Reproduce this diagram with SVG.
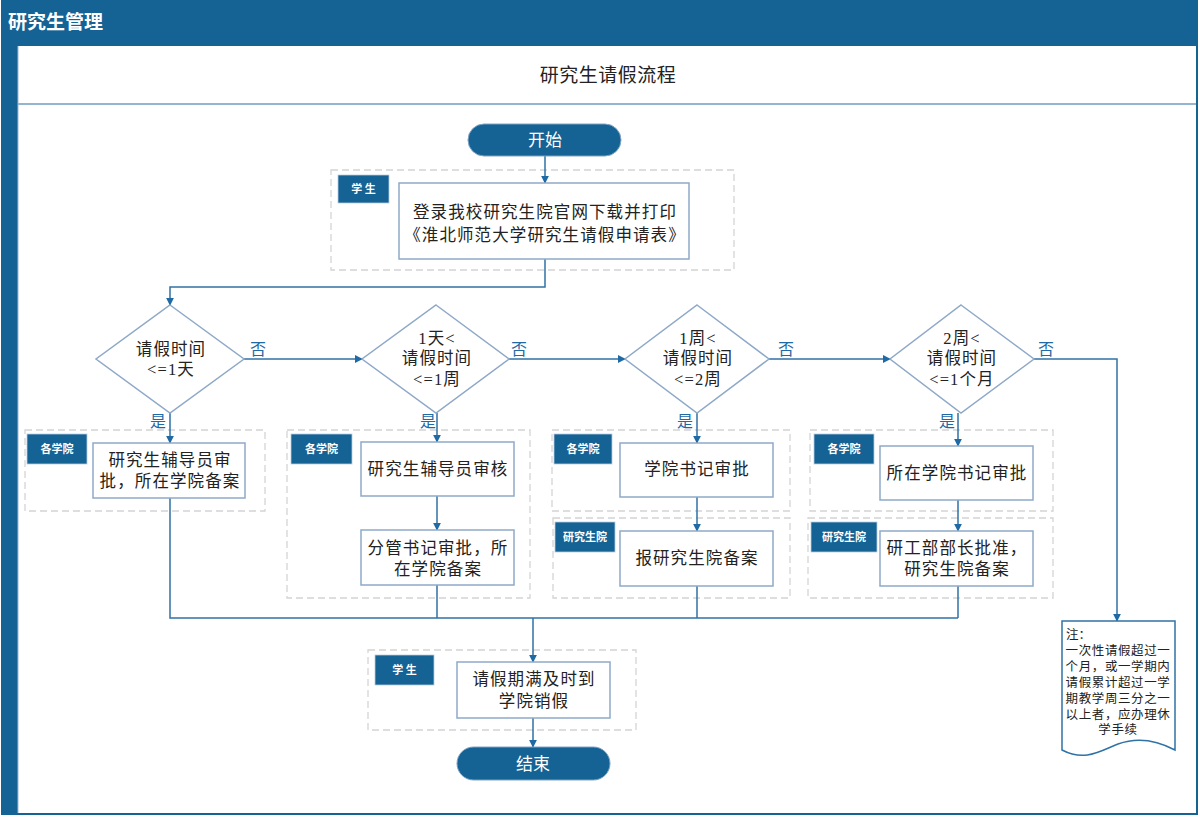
<svg xmlns="http://www.w3.org/2000/svg" width="1200" height="817" viewBox="0 0 1200 817">
<style>
.t{font-family:"Liberation Serif","Noto Sans CJK SC",serif;font-size:16.5px;letter-spacing:1.1px;fill:#222;text-anchor:middle}
.w{font-family:"Liberation Serif","Noto Sans CJK SC",serif;fill:#fff;text-anchor:middle}
.lab{font-family:"Liberation Serif","Noto Sans CJK SC",serif;font-size:11px;font-weight:bold;fill:#fff;text-anchor:middle}
.yn{font-family:"Liberation Serif","Noto Sans CJK SC",serif;font-size:16px;fill:#1f6aa5;text-anchor:middle}
.nt{font-family:"Liberation Serif","Noto Sans CJK SC",serif;font-size:12.5px;letter-spacing:0.6px;fill:#222;text-anchor:middle}
.nts{font-family:"Liberation Serif","Noto Sans CJK SC",serif;font-size:12.5px;fill:#222;text-anchor:start}
.box{fill:#fff;stroke:#8ea9c8;stroke-width:1.5}
.grp{fill:none;stroke:#d4d4d4;stroke-width:1.3;stroke-dasharray:7,4}
.lb{fill:#156294;stroke:#b9cde0;stroke-width:0.8}
.c{fill:none;stroke:#2f72a6;stroke-width:1.5}
</style>
<defs>
<marker id="a" viewBox="0 0 10 10" refX="9" refY="5" markerWidth="8" markerHeight="8" markerUnits="userSpaceOnUse" orient="auto">
<path d="M0,0 L10,5 L0,10 z" fill="#1f6aa5"/>
</marker>
</defs>
<rect width="1200" height="817" fill="#fff"/>
<g id="frame">
<rect x="1" y="0" width="1197" height="815" fill="#156294"/>
<rect x="18" y="46" width="1178" height="767" fill="#fff"/>
<line x1="18" y1="104" x2="1196" y2="104" stroke="#6f9cc0" stroke-width="1.5"/>
<line x1="18" y1="46" x2="18" y2="813" stroke="#9dbad4" stroke-width="1"/>
<text x="8" y="29" font-family="Liberation Serif,Noto Sans CJK SC,serif" font-size="19" font-weight="bold" fill="#fff">研究生管理</text>
<text x="608" y="82" class="t" style="font-size:19px;letter-spacing:0.5px">研究生请假流程</text>
</g>
<g id="groups">
<rect class="grp" x="331" y="170" width="403" height="100"/>
<rect class="grp" x="25" y="430" width="240" height="81"/>
<rect class="grp" x="287" y="430" width="243" height="168"/>
<rect class="grp" x="552" y="430" width="238" height="81"/>
<rect class="grp" x="553" y="518" width="237" height="80"/>
<rect class="grp" x="810" y="430" width="243" height="81"/>
<rect class="grp" x="808" y="518" width="245" height="80"/>
<rect class="grp" x="368" y="650" width="268" height="80"/>
</g>
<g id="labels">
<rect class="lb" x="338" y="175" width="51" height="28"/><text class="lab" x="363.5" y="193">学 生</text>
<rect class="lb" x="27" y="434" width="60" height="30"/><text class="lab" x="57" y="453">各学院</text>
<rect class="lb" x="291" y="434" width="61" height="30"/><text class="lab" x="321.5" y="453">各学院</text>
<rect class="lb" x="554" y="434" width="58" height="30"/><text class="lab" x="583" y="453">各学院</text>
<rect class="lb" x="555" y="522" width="60" height="30"/><text class="lab" x="585" y="541">研究生院</text>
<rect class="lb" x="814" y="434" width="60" height="30"/><text class="lab" x="844" y="453">各学院</text>
<rect class="lb" x="811" y="522" width="66" height="30"/><text class="lab" x="844" y="541">研究生院</text>
<rect class="lb" x="375" y="655" width="59" height="30"/><text class="lab" x="404.5" y="674">学 生</text>
</g>
<g id="connectors">
<line class="c" x1="545" y1="156" x2="545" y2="183" marker-end="url(#a)"/>
<polyline class="c" points="545,259 545,287 170,287 170,305" marker-end="url(#a)"/>
<line class="c" x1="244" y1="359" x2="362" y2="359" marker-end="url(#a)"/>
<line class="c" x1="509" y1="359" x2="625" y2="359" marker-end="url(#a)"/>
<line class="c" x1="769" y1="359" x2="890" y2="359" marker-end="url(#a)"/>
<polyline class="c" points="1034,359 1117,359 1117,621" marker-end="url(#a)"/>
<line class="c" x1="170" y1="413" x2="170" y2="443" marker-end="url(#a)"/>
<line class="c" x1="437" y1="413" x2="437" y2="442" marker-end="url(#a)"/>
<line class="c" x1="437" y1="496" x2="437" y2="530" marker-end="url(#a)"/>
<line class="c" x1="697" y1="413" x2="697" y2="443" marker-end="url(#a)"/>
<line class="c" x1="697" y1="497" x2="697" y2="531" marker-end="url(#a)"/>
<line class="c" x1="958" y1="413" x2="958" y2="446" marker-end="url(#a)"/>
<line class="c" x1="958" y1="500" x2="958" y2="531" marker-end="url(#a)"/>
<polyline class="c" points="170,498 170,618 958,618"/>
<line class="c" x1="437" y1="585" x2="437" y2="618"/>
<line class="c" x1="697" y1="586" x2="697" y2="618"/>
<line class="c" x1="958" y1="586" x2="958" y2="618"/>
<line class="c" x1="533" y1="618" x2="533" y2="662" marker-end="url(#a)"/>
<line class="c" x1="533" y1="718" x2="533" y2="747" marker-end="url(#a)"/>
<text class="yn" x="258" y="355">否</text>
<text class="yn" x="519" y="355">否</text>
<text class="yn" x="786" y="355">否</text>
<text class="yn" x="1046" y="355">否</text>
<text class="yn" x="158" y="427">是</text>
<text class="yn" x="428" y="427">是</text>
<text class="yn" x="685" y="427">是</text>
<text class="yn" x="947" y="427">是</text>
</g>
<g id="start">
<rect x="468" y="124" width="153" height="32" rx="16" fill="#156294" stroke="#7fa3c4" stroke-width="1"/>
<text class="w" x="545" y="146" style="font-size:17px">开始</text>
</g>
<g id="download">
<rect class="box" x="399" y="183" width="290" height="76"/>
<text class="t" x="545" y="218">登录我校研究生院官网下载并打印</text>
<text class="t" x="545" y="241">《淮北师范大学研究生请假申请表》</text>
</g>
<g id="d1">
<polygon class="box" points="170,305 244,359 170,413 96,359"/>
<text class="t" x="171" y="355">请假时间</text>
<text class="t" x="171" y="375">&lt;=1天</text>
</g>
<g id="d2">
<polygon class="box" points="436,305 509,359 436,413 362,359"/>
<text class="t" x="437" y="344">1天&lt;</text>
<text class="t" x="437" y="364">请假时间</text>
<text class="t" x="437" y="385">&lt;=1周</text>
</g>
<g id="d3">
<polygon class="box" points="697,305 769,359 697,413 625,359"/>
<text class="t" x="698" y="344">1周&lt;</text>
<text class="t" x="698" y="364">请假时间</text>
<text class="t" x="698" y="385">&lt;=2周</text>
</g>
<g id="d4">
<polygon class="box" points="961,305 1034,359 961,413 890,359"/>
<text class="t" x="962" y="344">2周&lt;</text>
<text class="t" x="962" y="364">请假时间</text>
<text class="t" x="962" y="385">&lt;=1个月</text>
</g>
<g id="n1">
<rect class="box" x="93" y="443" width="152" height="55"/>
<text class="t" x="170" y="466">研究生辅导员审</text>
<text class="t" x="170" y="487">批，所在学院备案</text>
</g>
<g id="n2a">
<rect class="box" x="361" y="442" width="153" height="54"/>
<text class="t" x="438" y="475">研究生辅导员审核</text>
</g>
<g id="n2b">
<rect class="box" x="361" y="530" width="153" height="55"/>
<text class="t" x="438" y="554">分管书记审批，所</text>
<text class="t" x="438" y="575">在学院备案</text>
</g>
<g id="n3a">
<rect class="box" x="620" y="443" width="153" height="54"/>
<text class="t" x="697" y="475">学院书记审批</text>
</g>
<g id="n3b">
<rect class="box" x="620" y="531" width="153" height="55"/>
<text class="t" x="697" y="564">报研究生院备案</text>
</g>
<g id="n4a">
<rect class="box" x="880" y="446" width="153" height="54"/>
<text class="t" x="957" y="479">所在学院书记审批</text>
</g>
<g id="n4b">
<rect class="box" x="880" y="531" width="153" height="55"/>
<text class="t" x="957" y="554">研工部部长批准，</text>
<text class="t" x="957" y="575">研究生院备案</text>
</g>
<g id="note">
<path d="M1062,621 L1175,621 L1175,750 C1160,742 1140,736 1118,744 C1100,751 1085,762 1062,750 Z" fill="#fff" stroke="#2f72a6" stroke-width="1.5"/>
<text class="nts" x="1066" y="639">注：</text>
<text class="nt" x="1118" y="655">一次性请假超过一</text>
<text class="nt" x="1118" y="671">个月，或一学期内</text>
<text class="nt" x="1118" y="687">请假累计超过一学</text>
<text class="nt" x="1118" y="703">期教学周三分之一</text>
<text class="nt" x="1118" y="719">以上者，应办理休</text>
<text class="nt" x="1118" y="734">学手续</text>
</g>
<g id="return">
<rect class="box" x="457" y="662" width="153" height="56"/>
<text class="t" x="534" y="685">请假期满及时到</text>
<text class="t" x="534" y="707">学院销假</text>
</g>
<g id="end">
<rect x="457" y="747" width="153" height="33" rx="16.5" fill="#156294" stroke="#7fa3c4" stroke-width="1"/>
<text class="w" x="533" y="770" style="font-size:17px">结束</text>
</g>
</svg>
